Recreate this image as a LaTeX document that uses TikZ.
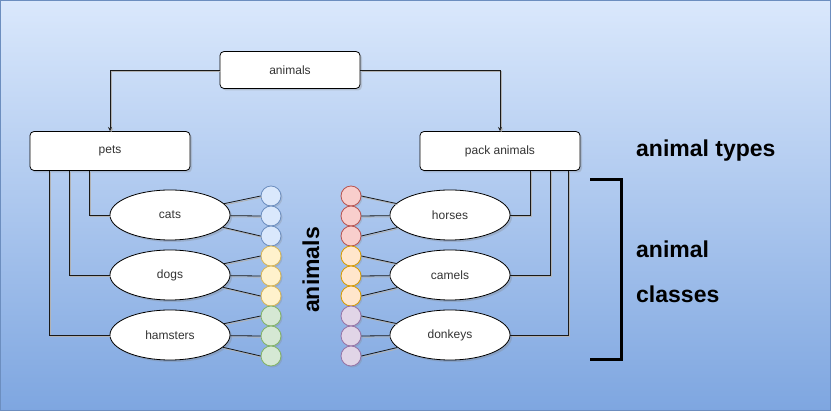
\documentclass[tikz,border=0pt]{standalone}
\usepackage{fontspec}
\setmainfont{Liberation Sans}
\usetikzlibrary{arrows, shapes, positioning, calc, shadows}
\definecolor{bgtop}{HTML}{DAE8FC}
\definecolor{bgbot}{HTML}{7EA6E0}
\definecolor{bgline}{HTML}{6C8EBF}
\tikzset{link/.style = {
  draw=black!90, line width=0.8pt,
  preaction={draw=black!30, line width=0.8pt, transform canvas={shift={(1.2pt,-1.2pt)}}}
  }}
\tikzset{arrow/.style = {link, ->, >=stealth}}
\tikzset{box/.style = {
  rectangle, draw, line width=0.8pt, fill=white,
  rounded corners=4pt,
  drop shadow={opacity=0.3, shadow xshift=2pt, shadow yshift=-2pt},
  text=black!80, font=\fontsize{12}{14}\selectfont,
  minimum width=160pt, minimum height=39pt
  }}
\tikzset{class/.style = {
  ellipse, draw, line width=0.8pt, fill=white,
  drop shadow={opacity=0.3, shadow xshift=2pt, shadow yshift=-2pt},
  text=black!80, font=\fontsize{12}{14}\selectfont,
  minimum width=120pt, minimum height=50pt
  }}
\tikzset{dot/.style 2 args = {
  circle, draw=#2, fill=#1, line width=0.8pt,
  drop shadow={opacity=0.25, shadow xshift=1.5pt, shadow yshift=-1.5pt},
  minimum size=20pt, inner sep=0pt
  }}
\tikzset{heading/.style = {
  font=\bfseries\fontsize{23}{45}\selectfont, inner sep=0pt
  }}

\begin{document}
\begin{tikzpicture}[x=1pt, y=-1pt]

	% Background
    \useasboundingbox (0,0) rectangle (831,411);
    \shade[top color=bgtop, bottom color=bgbot] (0,0) rectangle (831,411);
    \draw[bgline, line width=1pt] (0.5,0.5) rectangle (830.5,410.5);

	% Animal types
    \node (animals) [box, minimum width=140pt, minimum height=37pt] at (290,70) {animals};
    \node (pets) [box] at (110,151) {pets};
    \node (pack) [box] at (500,151) {pack animals};
    \draw [arrow] (animals.west) -| (pets.north);
    \draw [arrow] (animals.east) -| (pack.north);

	% Animal classes
    \node (cats) [class] at (170,215) {cats};
    \node (dogs) [class] at (170,275) {dogs};
    \node (hamsters) [class] at (170,335) {hamsters};
    \node (horses) [class] at (450,215) {horses};
    \node (camels) [class] at (450,275) {camels};
    \node (donkeys) [class] at (450,335) {donkeys};

    \draw [link] ([xshift=60pt]pets.south west) |- (cats.west);
    \draw [link] ([xshift=40pt]pets.south west) |- (dogs.west);
    \draw [link] ([xshift=20pt]pets.south west) |- (hamsters.west);
    \draw [link] ([xshift=-50pt]pack.south east) |- (horses.east);
    \draw [link] ([xshift=-30pt]pack.south east) |- (camels.east);
    \draw [link] ([xshift=-12pt]pack.south east) |- (donkeys.east);

	% Single animals
    \foreach \fc/\dc [count=\i] in {DAE8FC/6C8EBF, DAE8FC/6C8EBF, DAE8FC/6C8EBF,
        FFF2CC/D6B656, FFF2CC/D6B656, FFF2CC/D6B656,
        D5E8D4/82B366, D5E8D4/82B366, D5E8D4/82B366}
    {   \definecolor{F}{HTML}{\fc}
    	\definecolor{D}{HTML}{\dc}
    	\node (l\i) [dot={F}{D}] at (271,{176+20*\i}) {};
    }
    \foreach \fc/\dc [count=\i] in {F8CECC/B85450, F8CECC/B85450, F8CECC/B85450,
        FFE6CC/D79B00, FFE6CC/D79B00, FFE6CC/D79B00,
        E1D5E7/9673A6, E1D5E7/9673A6, E1D5E7/9673A6}
    {   \definecolor{F}{HTML}{\fc}
    	\definecolor{D}{HTML}{\dc}
    	\node (r\i) [dot={F}{D}] at (351,{176+20*\i}) {};
    }
    \foreach \cls/\side/\n in {cats/l/1, dogs/l/4, hamsters/l/7}
    {   \foreach \k in {0,1,2}
    	{   \pgfmathtruncatemacro{\j}{\n+\k}
    		\draw [link] (\cls) -- (\side\j.west);
    	}
    }
    \foreach \cls/\side/\n in {horses/r/1, camels/r/4, donkeys/r/7}
    {   \foreach \k in {0,1,2}
    	{   \pgfmathtruncatemacro{\j}{\n+\k}
    		\draw [link] (\cls) -- (\side\j.east);
    	}
    }

	% Labels
    \node (single) [heading, rotate=90] at (311,270) {animals};
    \node (types) [heading, anchor=west] at (636,151) {animal types};
    \node (classes) [heading, anchor=west, align=left] at (636,272) {animal\\classes};
    \draw [line width=3pt] (590,180) -- (621,180) -- (621,360) -- (590,360);

\end{tikzpicture}
\end{document}
